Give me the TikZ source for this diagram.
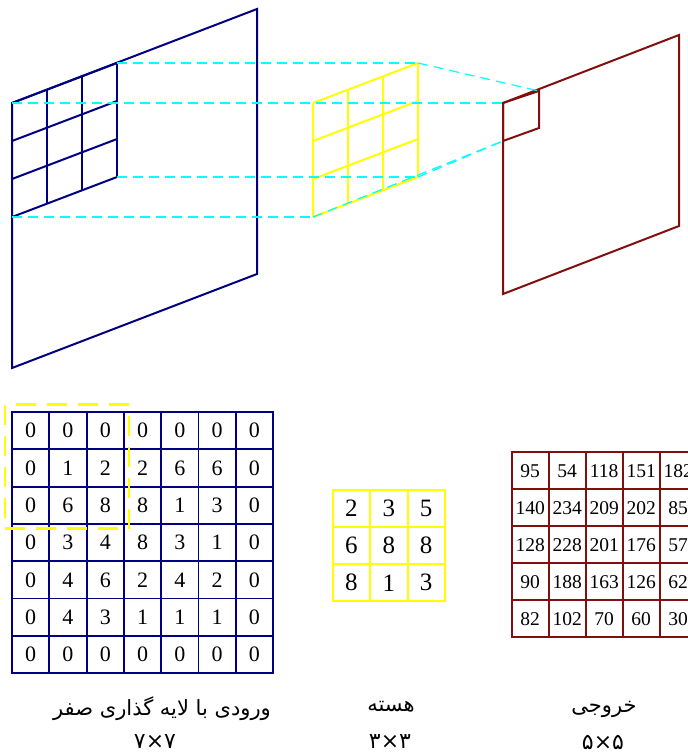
\documentclass[tikz,border=0pt]{standalone}
\usepackage{fontspec}
\setmainfont{Liberation Serif}
\newfontfamily\arabicfont[Script=Arabic]{DejaVu Sans}
\TeXXeTstate=1
\newcommand\persiantext[1]{{\arabicfont\beginR #1\endR}}
\definecolor{navyline}{RGB}{0,0,128}
\definecolor{maroonline}{RGB}{128,16,16}
\definecolor{kernelyellow}{RGB}{255,255,0}
\definecolor{guidecyan}{RGB}{0,255,255}
\tikzset{
  blueframe/.style={draw=navyline, line width=2pt, line join=miter},
  yellowframe/.style={draw=kernelyellow, line width=2pt, line join=miter},
  redframe/.style={draw=maroonline, line width=2pt, line join=miter},
  guide/.style={draw=guidecyan, line width=1.2pt, dash pattern=on 10pt off 6pt},
  incell/.style={draw=navyline, line width=1.9pt, minimum size=37.3pt, inner sep=0pt, font=\fontsize{22}{22}\selectfont},
  kcell/.style={draw=kernelyellow, line width=1.9pt, minimum size=37.3pt, inner sep=0pt, font=\fontsize{25}{25}\selectfont},
  ocell/.style={draw=maroonline, line width=1.9pt, minimum size=37pt, inner sep=0pt, font=\fontsize{19.5}{19.5}\selectfont},
  window/.style={draw=kernelyellow, line width=2.4pt, dash pattern=on 20pt off 11pt},
  label/.style={inner sep=0pt, font=\fontsize{21}{21}\selectfont},
  sizelabel/.style={inner sep=0pt, font=\fontsize{22}{22}\selectfont},
}
\begin{document}
\begin{tikzpicture}[x=1pt,y=-1pt]
\useasboundingbox (0,0) rectangle (688,755);
\fill[white] (0,0) rectangle (688,755);

% ---------- top: input plane ----------
\coordinate (B1) at (12,103);
\coordinate (B2) at (257,9);
\coordinate (B3) at (257,274);
\coordinate (B4) at (12,368);
\draw[blueframe] (B1) -- (B2) -- (B3) -- (B4) -- cycle;
\coordinate (BG1) at (12,103);
\coordinate (BG2) at (117,63);
\coordinate (BG3) at (117,177);
\coordinate (BG4) at (12,217);
\foreach \i in {0,...,3}
  \draw[blueframe] ({12+35*\i},{103-40/3*\i}) -- ++(0,114);
\foreach \j in {0,...,3}
  \draw[blueframe] (12,{103+38*\j}) -- ++(105,-40);

% ---------- top: kernel ----------
\coordinate (Y1) at (313,103);
\coordinate (Y2) at (418,63);
\coordinate (Y3) at (418,177);
\coordinate (Y4) at (313,217);
\foreach \i in {0,...,3}
  \draw[yellowframe] ({313+35*\i},{103-40/3*\i}) -- ++(0,114);
\foreach \j in {0,...,3}
  \draw[yellowframe] (313,{103+38*\j}) -- ++(105,-40);

% ---------- top: output plane ----------
\coordinate (R1) at (503,103);
\coordinate (R2) at (679,35);
\coordinate (R3) at (679,226);
\coordinate (R4) at (503,294);
\draw[redframe] (R1) -- (R2) -- (R3) -- (R4) -- cycle;
\coordinate (S1) at (503,103);
\coordinate (S2) at (539,91);
\coordinate (S3) at (539,128);
\coordinate (S4) at (503,141);
\draw[redframe] (S1) -- (S2) -- (S3) -- (S4) -- cycle;

% ---------- guide lines ----------
\draw[guide] (BG2) -- (Y2);
\draw[guide] (Y2) -- (S2);
\draw[guide] (BG1) -- (S1);
\draw[guide] (BG3) -- (Y3);
\draw[guide] (Y3) -- (S4);
\draw[guide] (BG4) -- (Y4);
\draw[guide] (Y4) -- (S4);

% ---------- bottom: padded input ----------
\foreach \rowvals [count=\r from 0] in {{0,0,0,0,0,0,0},{0,1,2,2,6,6,0},{0,6,8,8,1,3,0},{0,3,4,8,3,1,0},{0,4,6,2,4,2,0},{0,4,3,1,1,1,0},{0,0,0,0,0,0,0}}{
  \foreach \v [count=\c from 0] in \rowvals {
    \node[incell] (in-\r-\c) at ({12+37.3*(\c+0.5)},{412+37.3*(\r+0.5)}) {\v};
  }
}
\node[window, minimum size=124pt, inner sep=0pt] (win) at (67,466.5) {};

% ---------- bottom: kernel ----------
\foreach \rowvals [count=\r from 0] in {{2,3,5},{6,8,8},{8,1,3}}{
  \foreach \v [count=\c from 0] in \rowvals {
    \node[kcell] (k-\r-\c) at ({332.7+37.4*(\c+0.5)},{490+37.1*(\r+0.5)}) {\v};
  }
}

% ---------- bottom: output ----------
\begin{scope}
\clip (0,0) rectangle (688,755);
\foreach \rowvals [count=\r from 0] in {{95,54,118,151,182},{140,234,209,202,85},{128,228,201,176,57},{90,188,163,126,62},{82,102,70,60,30}}{
  \foreach \v [count=\c from 0] in \rowvals {
    \node[ocell] (o-\r-\c) at ({511.7+37*(\c+0.5)},{452.3+37*(\r+0.5)}) {\v};
  }
}
\end{scope}

% ---------- labels ----------
\node[label] (lin) at (162,709) {\persiantext{ورودی با لایه گذاری صفر}};
\node[label] (lk) at (391,707) {\persiantext{هسته}};
\node[label] (lout) at (604,709) {\persiantext{خروجی}};
\node[sizelabel] (sin) at (155,742) {\persiantext{۷×۷}};
\node[sizelabel] (sk) at (390,742) {\persiantext{۳×۳}};
\node[sizelabel] (sout) at (603,742) {\persiantext{۵×۵}};
\end{tikzpicture}
\end{document}
